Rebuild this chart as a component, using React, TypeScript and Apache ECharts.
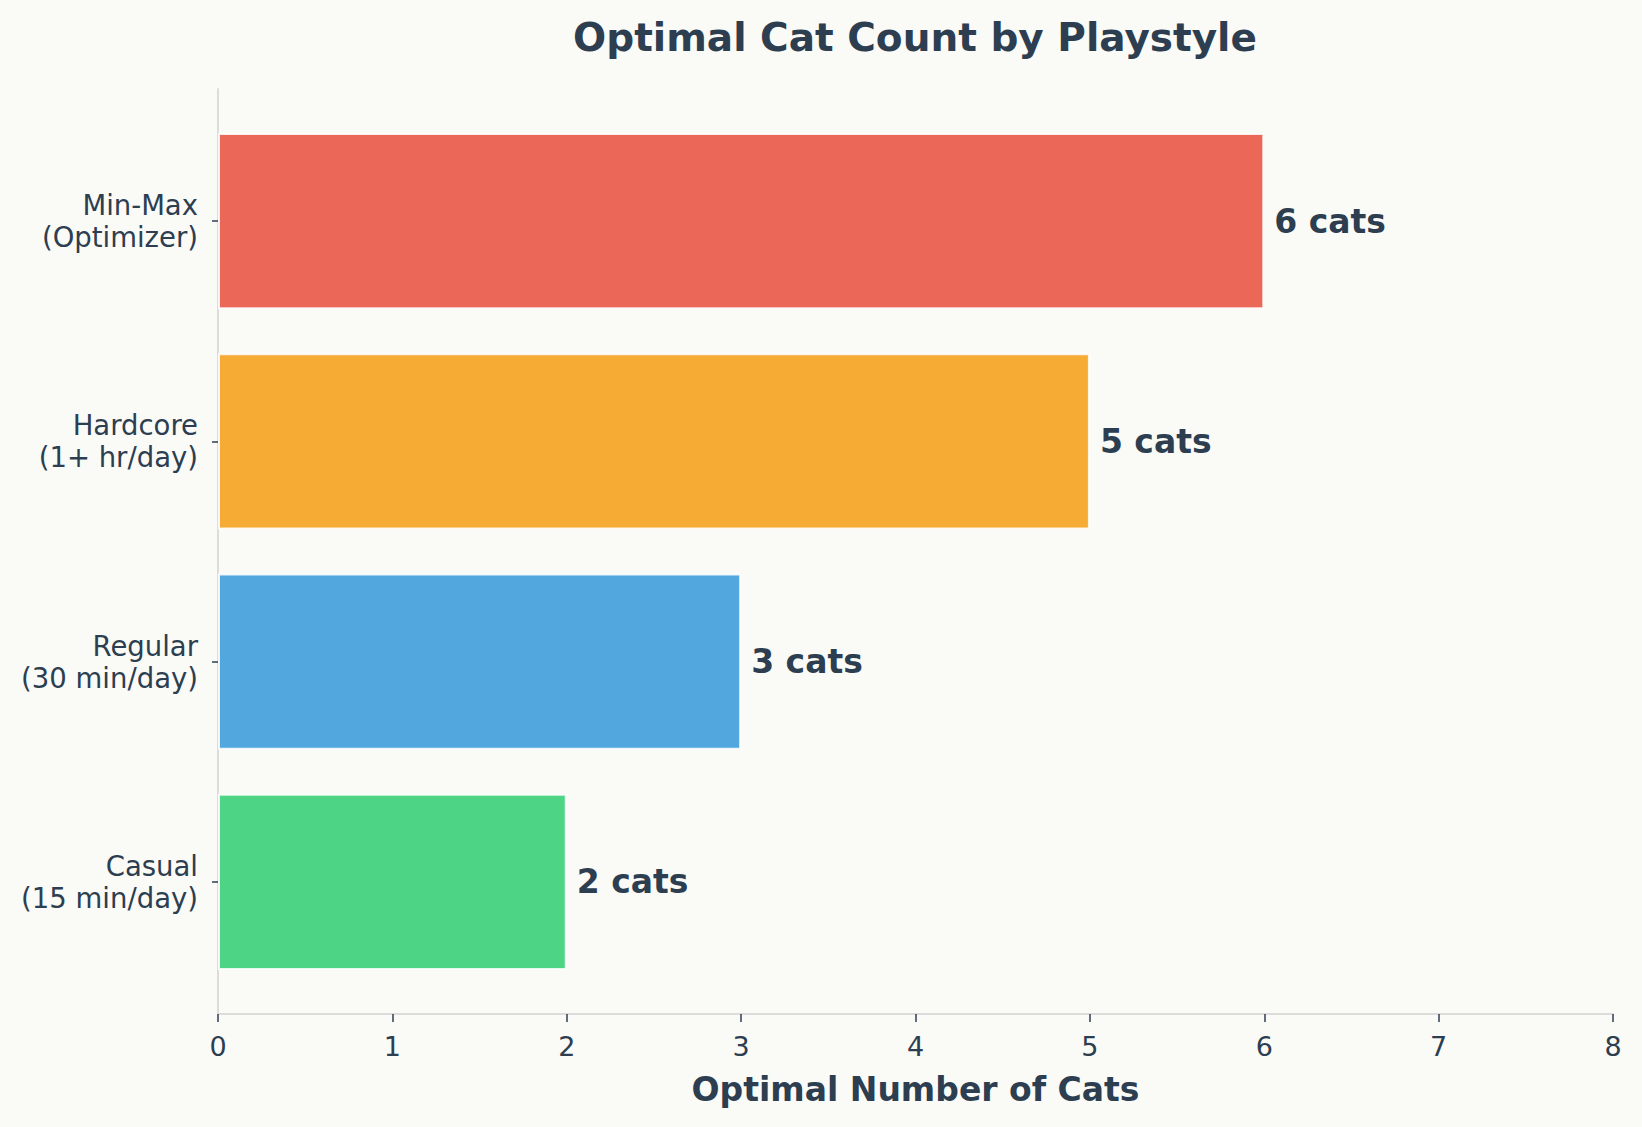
import { useEffect, useRef } from 'react';
import * as echarts from 'echarts';

// bottom to top, as the category axis draws them
const categories = ['Casual\n(15 min/day)', 'Regular\n(30 min/day)', 'Hardcore\n(1+ hr/day)', 'Min-Max\n(Optimizer)'];
const catCounts = [2, 3, 5, 6];
const barColors = ['rgba(46,204,113,0.85)', 'rgba(52,152,219,0.85)', 'rgba(243,156,18,0.85)', 'rgba(231,76,60,0.85)'];
const xTicks = { min: 0, max: 8, interval: 1 };

const TEXT = '#2c3e50';
const FONT = "'DejaVu Sans', sans-serif";
const SPINE = '#dcdcd9';

export default function App() {
  const chartRef = useRef<HTMLDivElement>(null);

  useEffect(() => {
    document.body.style.margin = '0';
    if (!chartRef.current) return;
    const chart = echarts.init(chartRef.current, undefined, { renderer: 'svg' });

    const option: echarts.EChartsOption = {
      animation: false,
      backgroundColor: '#fafaf7',
      textStyle: { fontFamily: FONT, color: TEXT },
      graphic: [
        {
          type: 'text',
          x: 915,
          y: 37,
          style: {
            text: 'Optimal Cat Count by Playstyle',
            fill: TEXT,
            font: `bold 39px ${FONT}`,
            textAlign: 'center',
            textVerticalAlign: 'middle',
          },
        },
      ],
      grid: [
        // outer frame: spines and x ticks
        { left: 218, right: 29, top: 89, bottom: 113 },
        // inner area holding the bars, padded like the y margins of the frame
        { left: 218, right: 29, top: 111, bottom: 135 },
      ],
      xAxis: [
        {
          type: 'value',
          gridIndex: 0,
          min: xTicks.min,
          max: xTicks.max,
          interval: xTicks.interval,
          name: 'Optimal Number of Cats',
          nameLocation: 'middle',
          nameGap: 59,
          nameTextStyle: { fontSize: 33, fontWeight: 'bold', color: TEXT, fontFamily: FONT },
          axisLine: { show: true, lineStyle: { color: SPINE, width: 2 } },
          axisTick: { show: true, length: 8, lineStyle: { color: TEXT, width: 1.5 } },
          axisLabel: { fontSize: 27, color: TEXT, margin: 19, fontFamily: FONT },
          splitLine: { show: false },
        },
        {
          type: 'value',
          gridIndex: 1,
          min: xTicks.min,
          max: xTicks.max,
          interval: xTicks.interval,
          show: false,
          splitLine: { show: false },
        },
      ],
      yAxis: [
        {
          type: 'value',
          gridIndex: 0,
          min: 0,
          max: 1,
          axisLine: { show: true, lineStyle: { color: SPINE, width: 2 } },
          axisTick: { show: false },
          axisLabel: { show: false },
          splitLine: { show: false },
        },
        {
          type: 'category',
          gridIndex: 1,
          data: categories,
          axisLine: { show: false },
          axisTick: { show: true, alignWithLabel: true, length: 6, lineStyle: { color: TEXT, width: 1.5 } },
          axisLabel: {
            fontSize: 27.5,
            lineHeight: 32,
            color: TEXT,
            margin: 20,
            align: 'right',
            padding: [7, 0, 0, 0],
            fontFamily: FONT,
          },
        },
      ],
      series: [
        {
          type: 'bar',
          xAxisIndex: 1,
          yAxisIndex: 1,
          barCategoryGap: '20%',
          data: catCounts.map((v, i) => ({
            value: v,
            itemStyle: { color: barColors[i] },
          })),
          itemStyle: { borderColor: 'rgba(255,255,255,0.85)', borderWidth: 2 },
          label: {
            show: true,
            position: 'right',
            distance: 10,
            formatter: (p: any) => `${p.value} cats`,
            fontSize: 33,
            fontWeight: 'bold',
            color: TEXT,
            fontFamily: FONT,
          },
        },
      ],
    };

    chart.setOption(option);
    return () => {
      chart.dispose();
    };
  }, []);

  return <div ref={chartRef} style={{ width: '1642px', height: '1127px' }} />;
}
